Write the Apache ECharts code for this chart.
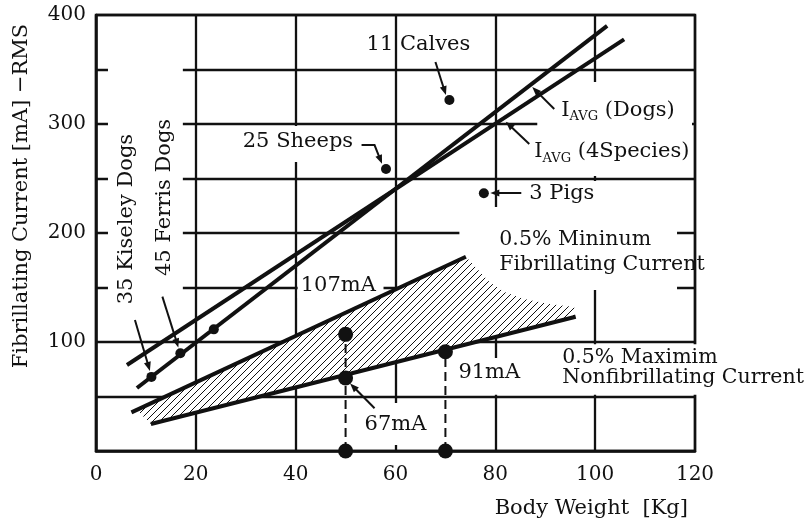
<!DOCTYPE html>
<html>
<head>
<meta charset="utf-8">
<script src="https://cdn.jsdelivr.net/npm/echarts@6/dist/echarts.min.js"></script>
<style>
  html, body { margin: 0; padding: 0; background: #fff; }
  #chart { width: 805px; height: 526px; }
</style>
</head>
<body>
<div id="chart"></div>
<script>
// ---- data: body weight [kg] vs. fibrillating current [mA RMS] ----
const xTicks = [0, 20, 40, 60, 80, 100, 120];
const yTickLabels = [100, 200, 300, 400];

// regression lines, given by their end points [kg, mA]
const dogsAvgLine = [[8.2, 57.8], [102.4, 390]];
const speciesAvgLine = [[6.2, 78.9], [105.8, 377.7]];
const minFibLine = [[7.1, 35.4], [74.1, 178.2]];
const maxNonFibLine = [[11.0, 24.8], [96.1, 123.2]];

// group means
const dogPoints = [[11.1, 68], [16.9, 89.6], [23.6, 111.6]];        // Kiseley, Ferris, other dogs
const speciesPoints = [[58.1, 258.7], [70.8, 322], [77.7, 236.4]];  // sheeps, calves, pigs

// reference currents read at 50 kg and 70 kg
const refWeights = [50, 50, 70];
const refCurrents = [107, 67, 91];

// outline of the hatched band between the two 0.5 % lines
const hatchOutline = [
  [8.2, 37.7], [74.1, 178.2],
  [76.2, 167.9], [78.8, 155], [81.8, 145.9], [85.8, 139.4], [90.8, 134.9], [95.8, 132.1],
  [95.8, 122.8], [11.0, 24.8]
];

// ---- annotations ----
const FONT = '"DejaVu Serif", "Liberation Serif", serif';
const INK = '#111';

const calloutTexts = ['11 Calves', '25 Sheeps', '3 Pigs', '107mA', '67mA', '91mA'];
const calloutAt = [[54.2, 372.5], [29.4, 283.5], [86.8, 235.8], [41.0, 151.4], [53.8, 23.9], [72.6, 71.6]];

const notes = ['0.5% Mininum\nFibrillating Current', '0.5% Maximim\nNonfibrillating Current'];
const notesAt = [[80.8, 182.0], [93.4, 76.4]];
const notesLineHeight = [25, 20];

const avgLabels = ['(Dogs)', '(4Species)'];
const avgLabelsAt = [[93.2, 312.8], [87.8, 274.3]];

const sideTexts = ['35 Kiseley Dogs', '45 Ferris Dogs'];
const sideTextsAt = [[6.1, 212.8], [13.8, 232.6]];

const arrows = [
  [[68.0, 356.9], [70.1, 326.5]],                       // calves
  [[53.2, 280.7], [55.8, 280.7], [57.3, 263.5]],        // sheeps
  [[85.2, 236.7], [79.0, 236.7]],                       // pigs
  [[91.8, 313.8], [87.4, 333.9]],                       // I_AVG dogs
  [[86.8, 281.7], [82.1, 302.1]],                       // I_AVG 4 species
  [[55.8, 39.2], [50.9, 62.0]],                         // 67mA
  [[7.8, 120.2], [10.8, 73.5]],                         // Kiseley
  [[13.3, 141.6], [16.5, 95.0]]                         // Ferris
];

// white panels that keep the grid clear behind the texts
const clearBoxes = [
  [2.4, 363.3, 17.4, 138.5],
  [28.4, 298.2, 52.0, 265.1],
  [88.4, 338.5, 119.4, 252.3],
  [85.8, 247.7, 100.8, 222.5],
  [72.8, 223.9, 116.4, 147.7],
  [92.0, 98.0, 141.8, 51.6],
  [71.8, 85.3, 86.0, 51.6],
  [52.8, 44.0, 67.2, 5.5],
  [40.4, 162.4, 57.6, 140.4]
];

// diagonal hatch tile
function hatchPattern() {
  const c = document.createElement('canvas');
  const s = 7;
  c.width = s; c.height = s;
  const g = c.getContext('2d');
  g.fillStyle = '#fff';
  g.fillRect(0, 0, s, s);
  g.strokeStyle = '#111';
  g.lineWidth = 1;
  g.beginPath();
  g.moveTo(-1, s + 1); g.lineTo(s + 1, -1);
  g.moveTo(-1, 1); g.lineTo(1, -1);
  g.moveTo(s - 1, s + 1); g.lineTo(s + 1, s - 1);
  g.stroke();
  return c;
}

function arrowShapes(api, pts) {
  const p = pts.map(v => api.coord(v));
  const tip = p[p.length - 1], prev = p[p.length - 2];
  let dx = tip[0] - prev[0], dy = tip[1] - prev[1];
  const len = Math.hypot(dx, dy); dx /= len; dy /= len;
  const L = 9, W = 3.5;
  const base = [tip[0] - dx * L, tip[1] - dy * L];
  const line = p.slice(0, -1).concat([[tip[0] - dx * L * 0.6, tip[1] - dy * L * 0.6]]);
  return [
    { type: 'polyline', shape: { points: line }, style: { stroke: INK, lineWidth: 2, fill: null } },
    { type: 'polygon', shape: { points: [tip, [base[0] - dy * W, base[1] + dx * W], [base[0] + dy * W, base[1] - dx * W]] },
      style: { fill: INK } }
  ];
}

const chart = echarts.init(document.getElementById('chart'));

const lineStyle = { color: INK, width: 4 };
const dotStyle = { color: INK, opacity: 1 };

chart.setOption({
  animation: false,
  backgroundColor: '#fff',
  grid: { left: 96, top: 15, right: 110, bottom: 75, show: true, borderColor: INK, borderWidth: 2.5, backgroundColor: 'transparent' },
  xAxis: {
    type: 'value', min: xTicks[0], max: xTicks[xTicks.length - 1], interval: 20,
    name: 'Body Weight  [Kg]', nameLocation: 'end', nameGap: -7,
    nameTextStyle: { fontFamily: FONT, fontSize: 21, color: INK, align: 'right', verticalAlign: 'top', padding: [47, 0, 0, 0] },
    axisLine: { lineStyle: { color: INK, width: 2.5 } },
    axisTick: { show: false },
    axisLabel: { fontFamily: FONT, fontSize: 20, color: INK, margin: 14 },
    splitLine: { lineStyle: { color: INK, width: 2.3 } }
  },
  yAxis: {
    type: 'value', min: 0, max: 400, interval: 50,
    name: 'Fibrillating Current [mA] \u2212RMS', nameLocation: 'middle', nameRotate: 90, nameGap: 64,
    nameTextStyle: { fontFamily: FONT, fontSize: 21, color: INK, padding: [0, 0, 0, 74] },
    axisLine: { lineStyle: { color: INK, width: 2.5 } },
    axisTick: { show: false },
    axisLabel: {
      fontFamily: FONT, fontSize: 20, color: INK, margin: 10,
      formatter: v => (yTickLabels.indexOf(v) >= 0 ? String(v) : '')
    },
    splitLine: { lineStyle: { color: INK, width: 2.3 } }
  },
  series: [
    {
      type: 'custom', z: 1, silent: true, data: [0],
      renderItem: (params, api) => ({
        type: 'group',
        children: clearBoxes.map(b => {
          const a = api.coord([b[0], b[1]]), c = api.coord([b[2], b[3]]);
          return { type: 'rect', shape: { x: a[0], y: a[1], width: c[0] - a[0], height: c[1] - a[1] }, style: { fill: '#fff' } };
        })
      })
    },
    {
      type: 'custom', z: 2, silent: true, data: [0],
      renderItem: (params, api) => ({
        type: 'polygon',
        shape: { points: hatchOutline.map(v => api.coord(v)) },
        style: { fill: { image: hatchPattern(), repeat: 'repeat' } }
      })
    },
    { name: 'I AVG (Dogs)', type: 'line', z: 3, clip: false, symbol: 'none', data: dogsAvgLine, lineStyle },
    { name: 'I AVG (4 Species)', type: 'line', z: 3, clip: false, symbol: 'none', data: speciesAvgLine, lineStyle },
    { name: '0.5% minimum fibrillating', type: 'line', z: 3, clip: false, symbol: 'none', data: minFibLine, lineStyle },
    { name: '0.5% maximum nonfibrillating', type: 'line', z: 3, clip: false, symbol: 'none', data: maxNonFibLine, lineStyle },
    {
      type: 'line', z: 3, clip: false, symbol: 'none',
      data: [[refWeights[0], 0], [refWeights[0], refCurrents[0]]],
      lineStyle: { color: INK, width: 2, type: [9, 5] }
    },
    {
      type: 'line', z: 3, clip: false, symbol: 'none',
      data: [[refWeights[2], 0], [refWeights[2], refCurrents[2]]],
      lineStyle: { color: INK, width: 2, type: [9, 5] }
    },
    { type: 'scatter', z: 4, clip: false, symbolSize: 10, data: dogPoints, itemStyle: dotStyle },
    { type: 'scatter', z: 4, clip: false, symbolSize: 10, data: speciesPoints, itemStyle: dotStyle },
    {
      type: 'scatter', z: 4, clip: false, symbolSize: 15, itemStyle: dotStyle,
      data: refWeights.map((w, i) => [w, refCurrents[i]])
    },
    {
      type: 'scatter', z: 4, clip: false, symbolSize: 15, itemStyle: dotStyle,
      data: [[refWeights[0], 0], [refWeights[2], 0]]
    },
    {
      type: 'custom', z: 5, silent: true, data: [0],
      renderItem: (params, api) => {
        const kids = [];
        calloutTexts.forEach((t, i) => {
          const p = api.coord(calloutAt[i]);
          kids.push({ type: 'text', x: p[0], y: p[1],
            style: { text: t, fill: INK, fontFamily: FONT, fontSize: 21, align: 'left', verticalAlign: 'middle' } });
        });
        notes.forEach((t, i) => {
          const p = api.coord(notesAt[i]);
          kids.push({ type: 'text', x: p[0], y: p[1],
            style: { text: t, fill: INK, fontFamily: FONT, fontSize: 20.5, lineHeight: notesLineHeight[i], align: 'left', verticalAlign: 'middle' } });
        });
        avgLabels.forEach((t, i) => {
          const p = api.coord(avgLabelsAt[i]);
          kids.push({ type: 'text', x: p[0], y: p[1],
            style: {
              text: '{m|I}{s|AVG}{m| ' + t + '}', align: 'left', verticalAlign: 'middle',
              rich: {
                m: { fontFamily: FONT, fontSize: 21, fill: INK, lineHeight: 28, verticalAlign: 'middle' },
                s: { fontFamily: FONT, fontSize: 13, fill: INK, lineHeight: 28, verticalAlign: 'middle', padding: [13, 0, 0, 0] }
              }
            } });
        });
        sideTexts.forEach((t, i) => {
          const p = api.coord(sideTextsAt[i]);
          kids.push({ type: 'text', x: p[0], y: p[1], rotation: Math.PI / 2,
            style: { text: t, fill: INK, fontFamily: FONT, fontSize: 21, align: 'center', verticalAlign: 'middle' } });
        });
        arrows.forEach(a => arrowShapes(api, a).forEach(s => kids.push(s)));
        return { type: 'group', children: kids };
      }
    }
  ]
});
</script>
</body>
</html>
